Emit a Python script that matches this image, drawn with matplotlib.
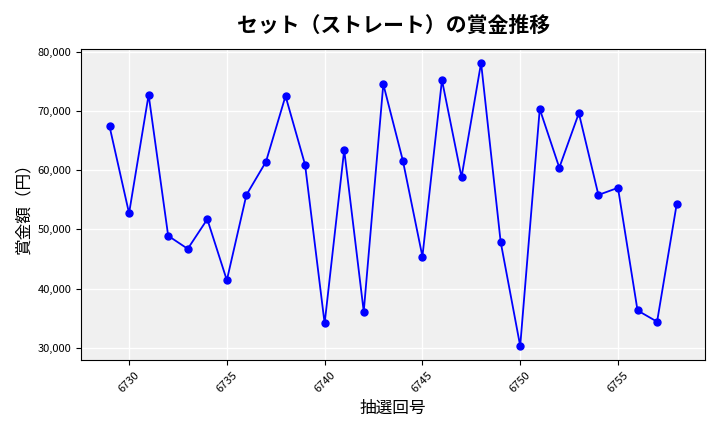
import matplotlib
matplotlib.use("Agg")
import matplotlib.pyplot as plt
from matplotlib.ticker import FuncFormatter

plt.rcParams["font.family"] = "Noto Sans CJK JP"

draws = list(range(6729, 6759))
prizes = [67400, 52700, 72700, 48900, 46700, 51700, 41400, 55800, 61400, 72500,
          60900, 34100, 63400, 36100, 74500, 61600, 45400, 75200, 58800, 78100,
          47900, 30300, 70300, 60400, 69600, 55800, 57000, 36300, 34400, 54200]

fig, ax = plt.subplots(figsize=(7.2, 4.32), dpi=100)
ax.set_facecolor("#f0f0f0")
ax.plot(draws, prizes, color="blue", marker="o", markersize=5, lw=1.3)
ax.grid(True, color="white", lw=1)
ax.set_axisbelow(True)
ax.set_title("セット（ストレート）の賞金推移", fontsize=15, fontweight="bold", pad=12)
ax.set_xlabel("抽選回号", fontsize=12)
ax.set_ylabel("賞金額（円）", fontsize=12)
ax.yaxis.set_major_formatter(FuncFormatter(lambda v, p: f"{int(v):,}"))
ax.set_xticks(range(6730, 6760, 5))
ax.tick_params(axis="x", labelrotation=45, labelsize=8)
ax.tick_params(axis="y", labelsize=8)
plt.tight_layout()
plt.savefig("out.png", dpi=100)
